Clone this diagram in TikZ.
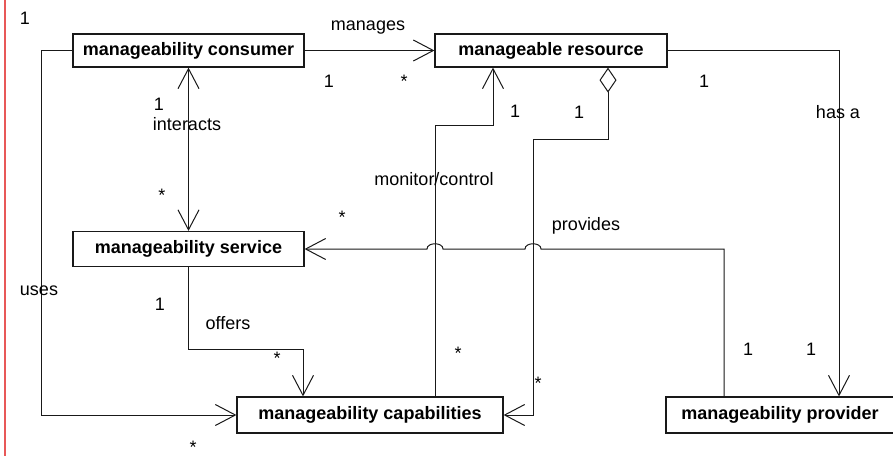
\documentclass[tikz,border=0pt]{standalone}
\usepackage{fontspec}
\setmainfont{Liberation Sans}
\usetikzlibrary{arrows.meta}
\definecolor{margin}{RGB}{232,88,88}
\definecolor{ink}{RGB}{25,25,25}
\tikzset{
  barb/.tip={Straight Barb[length=20pt,width=21pt]},
  agg/.tip={Diamond[open,length=25pt,width=17pt]},
}
\begin{document}
\begin{tikzpicture}[x=1pt,y=-1pt,
  cls/.style={draw=ink, line width=1.2pt, inner sep=0pt, text=black,
              font=\bfseries\fontsize{18}{20}\selectfont},
  lbl/.style={inner sep=0pt, anchor=base, font=\fontsize{18}{20}\selectfont},
  conn/.style={draw=ink, line width=1pt},
  nav/.style={conn, -barb}]

\clip (0,0) rectangle (893,456);
\fill[white] (0,0) rectangle (893,456);

% left margin rule
\draw[margin, line width=1.5pt] (5,0) -- (5,456);

% classes
\node[cls, minimum width=231pt, minimum height=33pt] (cons) at (188.5,50.5) {manageability consumer};
\node[cls, minimum width=232pt, minimum height=33pt] (res)  at (551,50.5)   {manageable resource};
\node[cls, minimum width=231pt, minimum height=35pt] (serv) at (188.5,249)  {manageability service};
\node[cls, minimum width=266pt, minimum height=36pt] (cap)  at (370,415)    {manageability capabilities};
\node[cls, minimum width=228pt, minimum height=36pt] (prov) at (780,415)    {manageability provider};

% bend points
\coordinate (u1) at (41,50.5);
\coordinate (o1) at (303,349);
\coordinate (m1) at (435,125);
\coordinate (m2) at (493,125);
\coordinate (a1) at (608,139);
\coordinate (a2) at (533,139);
\coordinate (h1) at (839,50.5);
\coordinate (p1) at (724,249);

% manages
\draw[nav] (cons.east) -- (res.west);
% interacts
\draw[conn, barb-barb] (cons.south) -- (serv.north);
% uses
\draw[nav] (cons.west) -- (u1) |- (cap.west);
% offers
\draw[nav] (serv.south) |- (o1) -- (o1 |- cap.north);
% monitor/control
\draw[nav] (m1 |- cap.north) -- (m1) -- (m2) -- (m2 |- res.south);
% aggregation of capabilities
\draw[conn, agg-barb] (a1 |- res.south) -- (a1) -- (a2) -- (a2 |- cap.east) -- (cap.east);
% has a
\draw[nav] (res.east) -- (h1) -- (h1 |- prov.north);
% provides, hopping over the two vertical lines
\draw[nav] (p1 |- prov.north) -- (p1) -- (541,249)
  .. controls (541,242) and (525,242) .. (525,249) -- (443,249)
  .. controls (443,242) and (427,242) .. (427,249) -- (serv.east);

% role names and multiplicities
\node[lbl] (t1)  at (25,24)    {1};
\node[lbl] (t2)  at (368,30.5) {manages};
\node[lbl] (t3)  at (329,87.5) {1};
\node[lbl] (t4)  at (404,87.5) {*};
\node[lbl] (t5)  at (159,110)  {1};
\node[lbl] (t6)  at (187,130)  {interacts};
\node[lbl] (t7)  at (162,201)  {*};
\node[lbl] (t8)  at (39,295)   {uses};
\node[lbl] (t9)  at (160,310)  {1};
\node[lbl] (t10) at (228,329)  {offers};
\node[lbl] (t11) at (277,364)  {*};
\node[lbl] (t12) at (193,453)  {*};
\node[lbl] (t13) at (342,223)  {*};
\node[lbl] (t14) at (434,185)  {monitor/control};
\node[lbl] (t15) at (515,117)  {1};
\node[lbl] (t16) at (579,118)  {1};
\node[lbl] (t17) at (704,87)   {1};
\node[lbl] (t18) at (838,118)  {has a};
\node[lbl] (t19) at (586,230)  {provides};
\node[lbl] (t20) at (458,359)  {*};
\node[lbl] (t21) at (538,389)  {*};
\node[lbl] (t22) at (748,355)  {1};
\node[lbl] (t23) at (811,355)  {1};
\end{tikzpicture}
\end{document}
